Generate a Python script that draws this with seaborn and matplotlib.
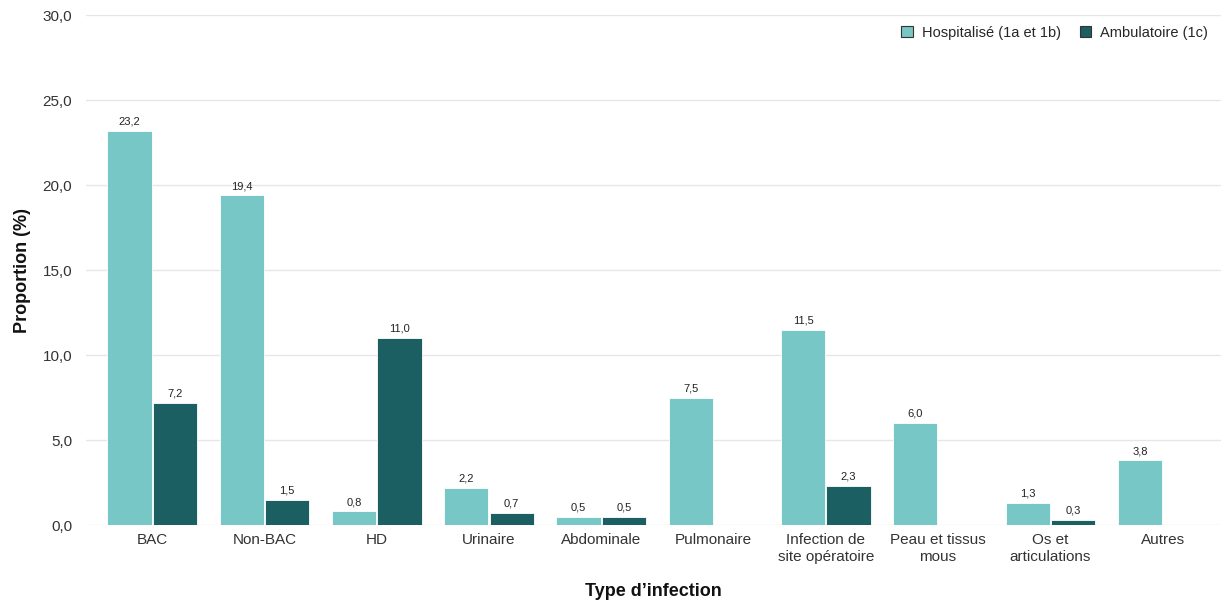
import numpy as np
import pandas as pd
import matplotlib
matplotlib.use("Agg")
import matplotlib.pyplot as plt
import seaborn as sns
from matplotlib.ticker import FuncFormatter

categories = ["BAC", "Non-BAC", "HD", "Urinaire", "Abdominale", "Pulmonaire",
              "Infection de\nsite opératoire", "Peau et tissus\nmous",
              "Os et\narticulations", "Autres"]
hospitalise = [23.2, 19.4, 0.8, 2.2, 0.5, 7.5, 11.5, 6.0, 1.3, 3.8]
ambulatoire = [7.2, 1.5, 11.0, 0.7, 0.5, np.nan, 2.3, np.nan, 0.3, np.nan]
series_names = ["Hospitalisé (1a et 1b)", "Ambulatoire (1c)"]
colors = ["#76C7C6", "#1B5F63"]
yticks = [0, 5, 10, 15, 20, 25, 30]

sns.set_theme(style="white")
plt.rcParams['font.family'] = ['Liberation Sans', 'DejaVu Sans']

df = pd.DataFrame({
    "cat": categories * 2,
    "val": hospitalise + ambulatoire,
    "serie": [series_names[0]] * len(categories) + [series_names[1]] * len(categories),
})

fig = plt.figure(figsize=(12.21, 6.08), dpi=100)
ax = fig.add_axes([0.0704, 0.1365, 0.9296, 0.8385])

sns.barplot(data=df, x="cat", y="val", hue="serie", palette=colors,
            width=0.81, gap=0.03, ax=ax, saturation=1, legend=True,
            edgecolor="white", linewidth=0.6)

for cont in ax.containers:
    labels = []
    for b in cont:
        h = b.get_height()
        labels.append("" if (h is None or np.isnan(h)) else f"{h:.1f}".replace(".", ","))
    ax.bar_label(cont, labels=labels, padding=3, fontsize=8, color="#222222")

ax.set_ylim(0, 30)
ax.set_xlim(-0.59, 9.52)
ax.set_yticks(yticks)
ax.yaxis.set_major_formatter(FuncFormatter(lambda v, p: f"{v:.1f}".replace(".", ",")))
ax.yaxis.grid(True, color="#E6E6E6", linewidth=1)
ax.set_axisbelow(True)
for s in ax.spines.values():
    s.set_visible(False)
ax.tick_params(axis="y", length=0, pad=10, labelsize=11, labelcolor="#333333")
ax.tick_params(axis="x", length=0, pad=6, labelsize=11, labelcolor="#333333")
ax.set_xlabel("Type d’infection", fontsize=13, fontweight="bold", labelpad=14, color="#111111")
ax.set_ylabel("Proportion (%)", fontsize=13, fontweight="bold", labelpad=8, color="#111111")

leg = ax.legend(loc="upper right", bbox_to_anchor=(1.0, 1.005), ncol=2, frameon=False,
                fontsize=10.5, handlelength=0.8, handleheight=0.8, handletextpad=0.6,
                columnspacing=1.3, title=None)
for h in leg.legend_handles:
    h.set_edgecolor("#333333")
    h.set_linewidth(0.8)

fig.savefig("out.png", dpi=100)
